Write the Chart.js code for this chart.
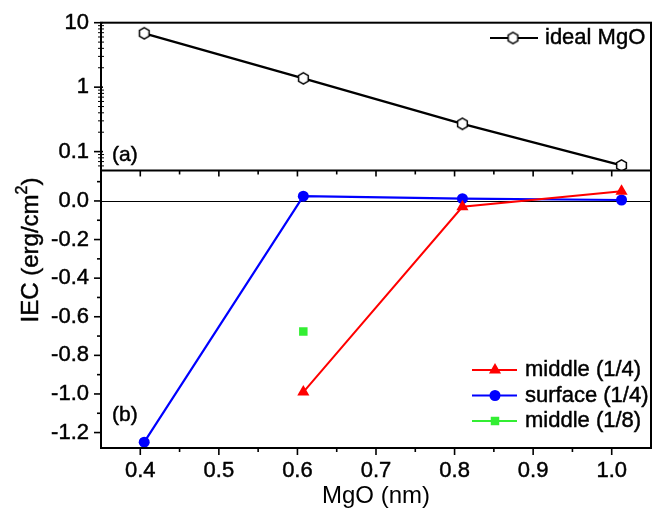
<!DOCTYPE html>
<html><head><meta charset="utf-8">
<script src="https://cdn.jsdelivr.net/npm/chart.js@4"></script>
<style>html,body{margin:0;padding:0;background:#fff}#wrap{width:657px;height:512px;position:relative}</style>
</head><body><div id="wrap"><canvas id="c"></canvas></div>
<script>
// ---- data ----
const mgoThickness = [0.405, 0.6075, 0.81, 1.0125];
const idealMgO = [6.85, 1.37, 0.27, 0.061];
const middleQuarterX = [0.6075, 0.81, 1.0125];
const middleQuarter = [-0.99, -0.03, 0.05];
const surfaceQuarter = [-1.25, 0.025, 0.012, 0.005];
const middleEighthX = [0.6075];
const middleEighth = [-0.677];
// ---- tick labels ----
const xTicks = [0.4, 0.5, 0.6, 0.7, 0.8, 0.9, 1.0];
const xMinorTicks = [0.45, 0.55, 0.65, 0.75, 0.85, 0.95];
const topTicks = [0.1, 1, 10];
const topMinorTicks = [0.06, 0.07, 0.08, 0.09, 0.2, 0.3, 0.4, 0.5, 0.6, 0.7, 0.8, 0.9, 2, 3, 4, 5, 6, 7, 8, 9];
const botTicks = [-1.2, -1.0, -0.8, -0.6, -0.4, -0.2, 0.0];
const botMinorTicks = [-1.1, -0.9, -0.7, -0.5, -0.3, -0.1, 0.1];
const legendTop = ['ideal MgO'];
const legendBottom = ['middle (1/4)', 'surface (1/4)', 'middle (1/8)'];

const FONT = "'Liberation Sans', Arial, sans-serif";
const RED = '#ff0000', BLUE = '#0000ff', GREEN = '#33ee33';
const TS = 0.45; // text stroke to mimic heavier glyphs

function pts(xs, ys) { return xs.map((x, i) => ({x: x, y: ys[i]})); }

// hexagon marker
const hex = document.createElement('canvas');
hex.width = 15; hex.height = 15;
(function () {
  const c = hex.getContext('2d');
  c.beginPath();
  for (let k = 0; k < 6; k++) {
    const ang = -Math.PI / 2 + k * Math.PI / 3;
    const px = 7.5 + 5.6 * Math.cos(ang), py = 7.5 + 5.6 * Math.sin(ang);
    if (k === 0) c.moveTo(px, py); else c.lineTo(px, py);
  }
  c.closePath();
  c.fillStyle = '#fff'; c.fill();
  c.strokeStyle = '#000'; c.lineWidth = 1.5; c.stroke();
})();

function line(ctx, x1, y1, x2, y2) { ctx.beginPath(); ctx.moveTo(x1, y1); ctx.lineTo(x2, y2); ctx.stroke(); }

function text(ctx, s, x, y) {
  ctx.fillText(s, x, y);
  ctx.save(); ctx.strokeStyle = ctx.fillStyle; ctx.lineWidth = TS; ctx.strokeText(s, x, y); ctx.restore();
}

function marker(ctx, style, x, y, r, color) {
  ctx.fillStyle = color;
  ctx.beginPath();
  if (style === 'triangle') {
    ctx.moveTo(x, y - r); ctx.lineTo(x + r * 0.866, y + r * 0.5); ctx.lineTo(x - r * 0.866, y + r * 0.5);
    ctx.closePath();
  } else if (style === 'circle') {
    ctx.arc(x, y, r, 0, Math.PI * 2);
  } else {
    const s = r * Math.SQRT1_2; ctx.rect(x - s, y - s, 2 * s, 2 * s);
  }
  ctx.fill();
}

const deco = {
  id: 'deco',
  beforeDatasetsDraw(chart) {
    const {ctx, chartArea: a} = chart;
    const y0 = Math.round(chart.scales.yBot.getPixelForValue(0)) + 0.5;
    ctx.save(); ctx.strokeStyle = '#000'; ctx.lineWidth = 1;
    line(ctx, a.left, y0, a.right, y0);
    ctx.restore();
  },
  afterDraw(chart) {
    const {ctx, chartArea: a} = chart;
    const xs = chart.scales.x, yb = chart.scales.yBot, yt = chart.scales.yTop;
    ctx.save();
    ctx.strokeStyle = '#000';
    // frame + separator
    ctx.lineWidth = 2;
    ctx.strokeRect(a.left, a.top, a.right - a.left, a.bottom - a.top);
    line(ctx, a.left, yb.top, a.right, yb.top);
    // ticks
    ctx.lineWidth = 1.6;
    xTicks.forEach(v => { const p = xs.getPixelForValue(v); line(ctx, p, a.bottom, p, a.bottom + 7); line(ctx, p, yb.top, p, yb.top + 6); });
    xMinorTicks.forEach(v => { const p = xs.getPixelForValue(v); line(ctx, p, a.bottom, p, a.bottom + 4); line(ctx, p, yb.top, p, yb.top + 4); });
    botTicks.forEach(v => { const p = yb.getPixelForValue(v); line(ctx, a.left - 7, p, a.left, p); });
    botMinorTicks.forEach(v => { const p = yb.getPixelForValue(v); line(ctx, a.left - 4, p, a.left, p); });
    topTicks.forEach(v => { const p = yt.getPixelForValue(v); line(ctx, a.left - 7, p, a.left + 2, p); });
    ctx.lineWidth = 1;
    topMinorTicks.forEach(v => { const p = yt.getPixelForValue(v); line(ctx, a.left - 3, p, a.left + 3, p); });

    // panel labels
    ctx.fillStyle = '#000';
    ctx.font = '21px ' + FONT;
    ctx.textBaseline = 'middle'; ctx.textAlign = 'left';
    text(ctx, '(a)', 112, 155);
    text(ctx, '(b)', 112, 415);

    // top legend
    ctx.font = '22px ' + FONT;
    ctx.lineWidth = 2.2;
    line(ctx, 490, 38, 538, 38);
    ctx.drawImage(hex, 513 - 7.5, 38 - 7.5);
    ctx.fillStyle = '#000';
    text(ctx, legendTop[0], 545, 38);

    // bottom legend
    const rows = [
      {y: 370, c: RED, s: 'triangle', r: 7},
      {y: 395.5, c: BLUE, s: 'circle', r: 5.5},
      {y: 421, c: GREEN, s: 'rect', r: 6}
    ];
    rows.forEach((row, i) => {
      ctx.strokeStyle = row.c; ctx.lineWidth = 2;
      line(ctx, 472, row.y, 517, row.y);
      marker(ctx, row.s, 495, row.y, row.r, row.c);
      ctx.fillStyle = '#000';
      text(ctx, legendBottom[i], 525, row.y);
    });

    // y title
    ctx.translate(30, 250);
    ctx.rotate(-Math.PI / 2);
    const f1 = '24px ' + FONT, f2 = '16px ' + FONT;
    ctx.font = f1; const w1 = ctx.measureText('IEC (erg/cm').width; const w3 = ctx.measureText(')').width;
    ctx.font = f2; const w2 = ctx.measureText('2').width;
    let x0 = -(w1 + w2 + w3) / 2;
    ctx.textAlign = 'left'; ctx.textBaseline = 'alphabetic';
    ctx.font = f1; text(ctx, 'IEC (erg/cm', x0, 8);
    ctx.font = f2; text(ctx, '2', x0 + w1, -3);
    ctx.font = f1; text(ctx, ')', x0 + w1 + w2, 8);
    ctx.restore();
  }
};

const tickOpts = {color: '#000', autoSkip: false, textStrokeColor: '#000', textStrokeWidth: TS};

new Chart(document.getElementById('c'), {
  type: 'line',
  data: {
    datasets: [
      {label: 'ideal MgO', data: pts(mgoThickness, idealMgO), yAxisID: 'yTop', borderColor: '#000', borderWidth: 2.4,
       pointStyle: hex, pointRadius: 6, pointHoverRadius: 6},
      {label: 'middle (1/4)', data: pts(middleQuarterX, middleQuarter), yAxisID: 'yBot', borderColor: RED, backgroundColor: RED,
       borderWidth: 2, pointStyle: 'triangle', pointRadius: 7, pointBorderWidth: 0},
      {label: 'surface (1/4)', data: pts(mgoThickness, surfaceQuarter), yAxisID: 'yBot', borderColor: BLUE, backgroundColor: BLUE,
       borderWidth: 2.2, pointStyle: 'circle', pointRadius: 5.5, pointBorderWidth: 0},
      {label: 'middle (1/8)', data: pts(middleEighthX, middleEighth), yAxisID: 'yBot', borderColor: GREEN, backgroundColor: GREEN,
       borderWidth: 2, pointStyle: 'rect', pointRadius: 6, pointBorderWidth: 0, showLine: false}
    ]
  },
  options: {
    responsive: true, maintainAspectRatio: false, animation: false, events: [],
    layout: {autoPadding: false, padding: {left: 0, right: 6, top: 22.7, bottom: 0}},
    plugins: {legend: {display: false}, tooltip: {enabled: false}},
    scales: {
      x: {
        type: 'linear', min: 0.35, max: 1.05,
        afterBuildTicks: s => { s.ticks = xTicks.map(v => ({value: v})); },
        afterFit: s => { s.height = 64; },
        grid: {display: false, drawTicks: false}, border: {display: false},
        ticks: Object.assign({}, tickOpts, {font: {family: FONT, size: 22}, padding: 10, maxRotation: 0, callback: v => v.toFixed(1)}),
        title: {display: true, text: 'MgO (nm)', font: {family: FONT, size: 24}, color: '#000', padding: {top: 0, bottom: 1}}
      },
      yBot: {
        type: 'linear', position: 'left', stack: 'v', stackWeight: 278, min: -1.28, max: 0.158,
        afterBuildTicks: s => { s.ticks = botTicks.map(v => ({value: v})); },
        afterFit: s => { s.width = 101; },
        grid: {display: false, drawTicks: false}, border: {display: false},
        ticks: Object.assign({}, tickOpts, {font: {family: FONT, size: 22, lineHeight: 0.8}, padding: 12, callback: v => v.toFixed(1)})
      },
      yTop: {
        type: 'logarithmic', position: 'left', stack: 'v', stackWeight: 148, min: 0.051, max: 10,
        afterBuildTicks: s => { s.ticks = topTicks.map(v => ({value: v})); },
        afterFit: s => { s.width = 101; },
        grid: {display: false, drawTicks: false}, border: {display: false},
        ticks: Object.assign({}, tickOpts, {font: {family: FONT, size: 22, lineHeight: 0.8}, padding: 12, callback: v => String(v)})
      }
    }
  },
  plugins: [deco]
});
</script>
</body></html>
